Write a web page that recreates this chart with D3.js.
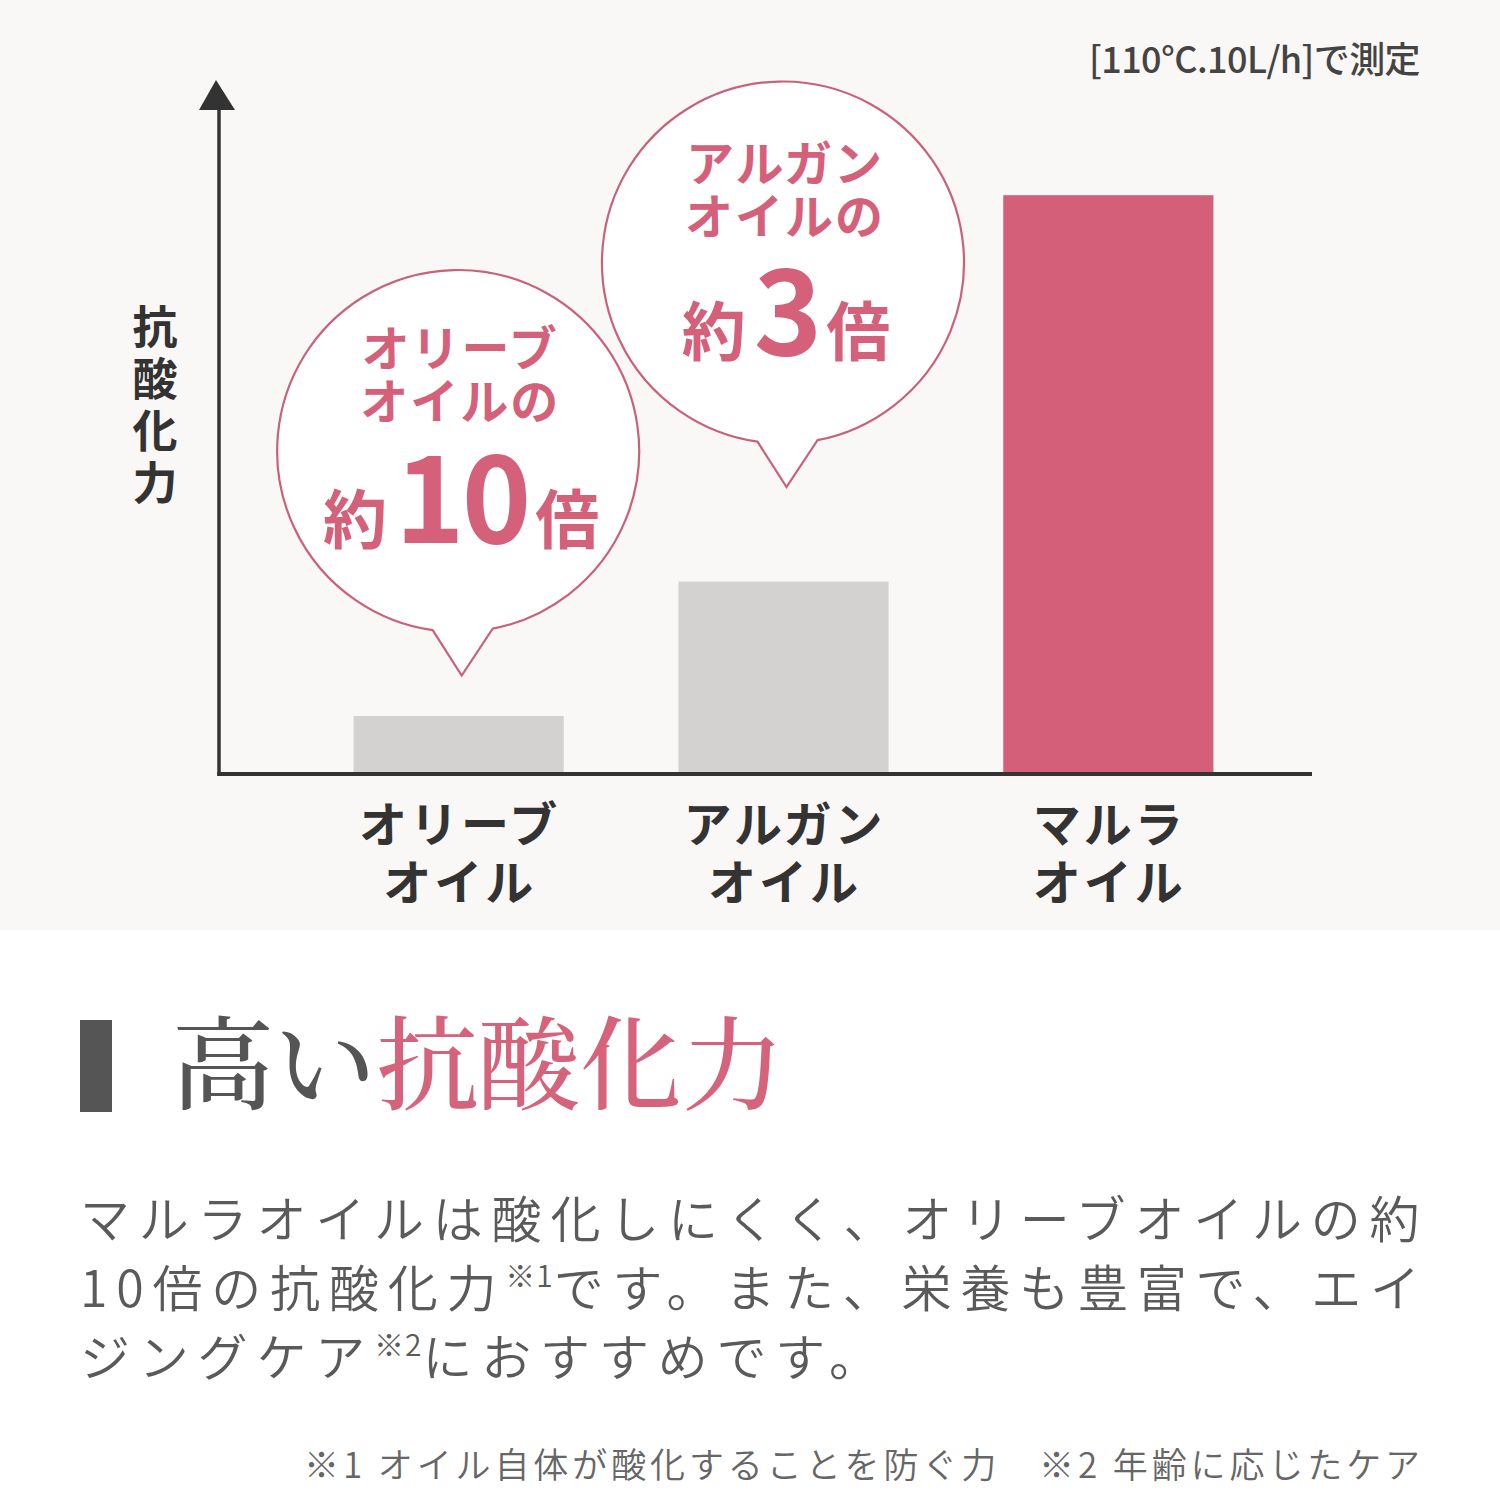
<!DOCTYPE html>
<html><head><meta charset="utf-8">
<script src="https://cdn.jsdelivr.net/npm/d3@7"></script>
<style>
html,body{margin:0;padding:0;background:#fff;}
svg{display:block;}
</style></head>
<body>
<script>
// ---- data ----
const categories = ["オリーブオイル", "アルガンオイル", "マルラオイル"];
const categoryLines = [["オリーブ", "オイル"], ["アルガン", "オイル"], ["マルラ", "オイル"]];
const values = [1.0, 3.4, 10.3];
const barColors = ["#d3d2d0", "#d3d2d0", "#d45f78"];
const bubbleCategories = ["オリーブオイル", "アルガンオイル"];
const bubbleLines = [["オリーブ", "オイルの"], ["アルガン", "オイルの"]];
const bubbleRatios = ["10", "3"];
const yAxisLabel = ["抗", "酸", "化", "力"];
const conditionNote = "[110°C.10L/h]で測定";
const titleGray = "高い";
const titlePink = "抗酸化力";
const bodyLines = [
  [["マルラオイルは酸化しにくく、オリーブオイルの約", false]],
  [["10倍の抗酸化力", false], ["※1", true], ["です。また、栄養も豊富で、エイ", false]],
  [["ジングケア", false], ["※2", true], ["におすすめです。", false]]
];
const footnote = "※1 オイル自体が酸化することを防ぐ力　※2 年齢に応じたケア";

// ---- drawing ----
const W = 1500, H = 1500;
const svg = d3.select("body").append("svg").attr("width", W).attr("height", H);
const SANS = "'Noto Sans CJK JP', 'Noto Sans', sans-serif";
const PINK = "#d4607a";

svg.append("rect").attr("x", 0).attr("y", 0).attr("width", W).attr("height", 930).attr("fill", "#f9f8f6");

const x = d3.scaleBand().domain(categories).range([236, 1331]).paddingInner(0.353).paddingOuter(0.362);
const y = d3.scaleLinear().domain([0, 12]).range([772, 100]);

// bars
svg.selectAll("rect.bar").data(categories).join("rect").attr("class", "bar")
  .attr("x", d => x(d)).attr("width", x.bandwidth())
  .attr("y", (d, i) => y(values[i])).attr("height", (d, i) => y(0) - y(values[i]))
  .attr("fill", (d, i) => barColors[i]);

// axes
const axisX0 = 219, axisX1 = 1312, axisY = y(0) + 2;
svg.append("line").attr("x1", axisX0).attr("x2", axisX0).attr("y1", 100).attr("y2", axisY + 2)
  .attr("stroke", "#333").attr("stroke-width", 3.5);
svg.append("line").attr("x1", axisX0 - 1.75).attr("x2", axisX1).attr("y1", axisY).attr("y2", axisY)
  .attr("stroke", "#333").attr("stroke-width", 4);
svg.append("path").attr("d", `M${axisX0 - 3},80 L${axisX0 + 16},110 L${axisX0 - 20},110 Z`).attr("fill", "#333");

// category labels (one text element per category, lines as tspans)
categoryLines.forEach((lines, i) => {
  const cx = x(categories[i]) + x.bandwidth() / 2 + 1;
  const t = svg.append("text").attr("text-anchor", "middle").attr("font-family", SANS).attr("font-weight", 700)
    .attr("font-size", 48).attr("letter-spacing", 3).attr("fill", "#333");
  lines.forEach((s, j) => t.append("tspan").attr("x", cx).attr("y", 842 + j * 58).text(s));
});

// y axis label (vertical, stacked characters)
const yl = svg.append("text").attr("text-anchor", "middle")
  .attr("font-family", SANS).attr("font-weight", 700).attr("font-size", 45).attr("fill", "#333");
yAxisLabel.forEach((c, i) => yl.append("tspan").attr("x", 155).attr("y", 344 + i * 52).text(c));

// condition note
svg.append("text").attr("x", 1420).attr("y", 73).attr("text-anchor", "end")
  .attr("font-family", SANS).attr("font-weight", 500).attr("font-size", 36).attr("letter-spacing", -0.6).attr("fill", "#444")
  .text(conditionNote);

// bubbles
const bubbleCY = [451, 262.5];
const R = 181;
bubbleCategories.forEach((cat, i) => {
  const cx = x(cat) + x.bandwidth() / 2 - 0.5;
  const cy = bubbleCY[i];
  const lx = -25.5, rx = 34.5, tipDx = 3.5, tipDy = Math.sqrt(R * R - 30 * 30) + 46;
  const ly = Math.sqrt(R * R - lx * lx), ry = Math.sqrt(R * R - rx * rx);
  const aL = Math.atan2(ly, lx), aR = Math.atan2(ry, rx);
  const p = d3.path();
  p.moveTo(cx + lx, cy + ly);
  p.lineTo(cx + tipDx, cy + tipDy);
  p.lineTo(cx + rx, cy + ry);
  p.arc(cx, cy, R, aR, aL, true);
  p.closePath();
  svg.append("path").attr("d", p.toString()).attr("fill", "#fff")
    .attr("stroke", "#c8617a").attr("stroke-width", 2.2).attr("stroke-linejoin", "miter");

  const bt = svg.append("text").attr("text-anchor", "middle").attr("font-family", SANS).attr("font-weight", 700)
    .attr("font-size", 48).attr("letter-spacing", 2).attr("fill", PINK);
  bubbleLines[i].forEach((s, j) => {
    bt.append("tspan").attr("x", cx + 2).attr("y", cy - 85 + j * 53 + (i === 1 ? 3 : 0)).text(s);
  });
  const big = svg.append("text").attr("x", cx + 3).attr("y", cy + 92)
    .attr("text-anchor", "middle").attr("font-family", SANS).attr("font-weight", 700).attr("fill", PINK);
  big.append("tspan").attr("font-size", 64).text("約");
  big.append("tspan").attr("font-size", i === 0 ? 118 : 116).attr("dx", 8).attr("letter-spacing", -3).text(bubbleRatios[i]);
  big.append("tspan").attr("font-size", 64).attr("dx", 7).text("倍");
});

// title
svg.append("rect").attr("x", 80).attr("y", 1020).attr("width", 32).attr("height", 92).attr("fill", "#555");
const title = svg.append("text").attr("x", 172).attr("y", 1102)
  .attr("font-family", "'Noto Serif CJK JP', 'Noto Serif JP', serif").attr("font-size", 102).attr("font-weight", 500);
title.append("tspan").attr("fill", "#555").text(titleGray);
title.append("tspan").attr("fill", "#d4637b").text(titlePink);

// body (single text element, one tspan group per line)
const body = svg.append("text").attr("font-family", SANS).attr("font-weight", 350).attr("font-size", 50)
  .attr("letter-spacing", 8.8).attr("fill", "#5a5a5a");
bodyLines.forEach((segs, i) => {
  let raised = false;
  segs.forEach(([s, sup], k) => {
    const ts = body.append("tspan").text(s);
    if (k === 0) ts.attr("x", 80).attr("y", 1238 + i * 69);
    if (sup) { ts.attr("font-size", 30).attr("dy", -20).attr("letter-spacing", 1); raised = true; }
    else if (raised) { ts.attr("dy", 20); raised = false; }
  });
});

// footnote
svg.append("text").attr("x", 1424).attr("y", 1478).attr("text-anchor", "end")
  .attr("font-family", SANS).attr("font-weight", 350).attr("font-size", 35).attr("letter-spacing", 3.9)
  .attr("fill", "#666").text(footnote);
</script>
</body></html>
